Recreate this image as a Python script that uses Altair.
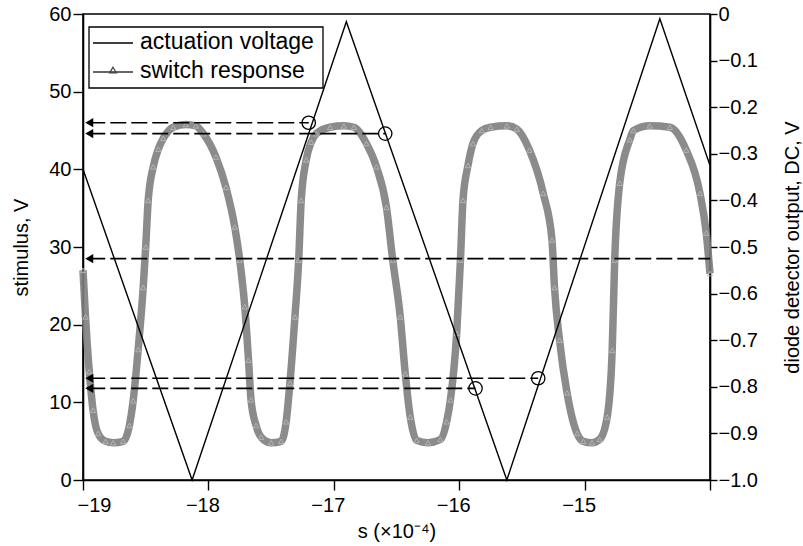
import altair as alt
import pandas as pd

# ---------------- data ----------------
act_x = [-19.0, -18.13, -16.90, -15.62, -14.40, -14.0]
act_v = [40.0, 0.0, 59.0, 0.0, 59.4, 40.5]

sw_x = [-19.00, -18.98, -18.95, -18.92, -18.88, -18.82, -18.76, -18.68, -18.63, -18.60,
        -18.56, -18.52, -18.50, -18.48, -18.44, -18.40, -18.36, -18.28, -18.18, -18.10,
        -18.04, -17.94, -17.86, -17.79, -17.75, -17.71, -17.68, -17.66, -17.62, -17.58,
        -17.50, -17.42, -17.38, -17.35, -17.31, -17.28, -17.26, -17.22, -17.18, -17.14,
        -17.03, -16.92, -16.84, -16.74, -16.66, -16.58, -16.53, -16.47, -16.43, -16.39,
        -16.34, -16.25, -16.15, -16.10, -16.07, -16.02, -15.99, -15.97, -15.93, -15.89,
        -15.82, -15.75, -15.62, -15.54, -15.44, -15.33, -15.26, -15.24, -15.20, -15.14,
        -15.06, -15.01, -14.94, -14.88, -14.82, -14.78, -14.76, -14.72, -14.64, -14.61,
        -14.48, -14.32, -14.19, -14.08, -14.03, -14.00]
sw_v = [-0.55, -0.65, -0.767, -0.85, -0.90, -0.917, -0.92, -0.917, -0.883, -0.83,
        -0.72, -0.587, -0.50, -0.40, -0.328, -0.29, -0.267, -0.243, -0.237, -0.24,
        -0.257, -0.307, -0.372, -0.457, -0.528, -0.628, -0.743, -0.828, -0.883, -0.908,
        -0.92, -0.917, -0.875, -0.792, -0.65, -0.528, -0.40, -0.313, -0.275, -0.257,
        -0.243, -0.24, -0.243, -0.278, -0.328, -0.415, -0.528, -0.65, -0.772, -0.865,
        -0.915, -0.92, -0.913, -0.875, -0.828, -0.685, -0.528, -0.40, -0.325, -0.278,
        -0.25, -0.243, -0.24, -0.247, -0.292, -0.385, -0.485, -0.587, -0.70, -0.813,
        -0.90, -0.917, -0.92, -0.913, -0.865, -0.722, -0.528, -0.363, -0.27, -0.25,
        -0.24, -0.243, -0.292, -0.385, -0.47, -0.557]

ref_y = [46.0, 44.6, 28.5, 13.1, 11.8]
ref_x_start = [-18.95, -18.95, -18.95, -18.95, -18.95]
ref_x_end = [-17.20, -16.59, -14.0, -15.37, -15.87]

circ_x = [-17.20, -16.59, -15.37, -15.87]
circ_y = [46.0, 44.6, 13.1, 11.8]

x_ticks = [-19, -18, -17, -16, -15, -14]
left_ticks = [0, 10, 20, 30, 40, 50, 60]
right_ticks = [0, -0.1, -0.2, -0.3, -0.4, -0.5, -0.6, -0.7, -0.8, -0.9, -1.0]

legend_labels = ["actuation voltage", "switch response"]

# ---------------- tables ----------------
act_df = pd.DataFrame({"s": act_x, "v": act_v})
sw_df = pd.DataFrame({"s": sw_x, "d": sw_v})
ref_df = pd.DataFrame({"xs": ref_x_start, "xe": ref_x_end, "y": ref_y})
circ_df = pd.DataFrame({"s": circ_x, "v": circ_y})
one = pd.DataFrame({"k": [0]})

FONT = "Liberation Sans"

xscale = alt.Scale(domain=[-19, -14], nice=False, zero=False)
yl_scale = alt.Scale(domain=[0, 60], nice=False, zero=False)
yr_scale = alt.Scale(domain=[-1, 0], nice=False, zero=False)

x_axis = alt.Axis(values=x_ticks, title="s (×10⁻⁴)",
                  labelExpr="datum.value == -14 ? '' : datum.label",
                  tickSize=10, labelPadding=5, labelOffset=-6,
                  titleX=313.5, titleY=51, titleAlign="center", titleBaseline="middle")
yl_axis = alt.Axis(values=left_ticks, title="stimulus, V", orient="left",
                   tickSize=10, labelPadding=2,
                   titleX=-62, titleY=233, titleAngle=270,
                   titleAlign="center", titleBaseline="middle")
yr_axis = alt.Axis(values=right_ticks, title="diode detector output, DC, V", orient="right",
                   labelExpr="datum.value == 0 ? '\u2002\u20020' : format(datum.value, '.1f')",
                   tickSize=7, labelPadding=1,
                   titleX=82, titleY=233, titleAngle=270,
                   titleAlign="center", titleBaseline="middle")

X = lambda f: alt.X(f, scale=xscale, axis=x_axis)
YL = lambda f: alt.Y(f, scale=yl_scale, axis=yl_axis)
YR = lambda f: alt.Y(f, scale=yr_scale, axis=yr_axis)

act_line = alt.Chart(act_df).mark_line(color="black", strokeWidth=1.4).encode(
    x=X("s:Q"), y=YL("v:Q"))

ref_rules = alt.Chart(ref_df).mark_rule(color="black", strokeWidth=1.7, strokeDash=[16, 5]).encode(
    x=X("xs:Q"), x2="xe:Q", y=YL("y:Q"))

arrows = alt.Chart(ref_df).mark_point(shape="triangle-left", filled=True, color="black",
                                      size=85, opacity=1).encode(
    x=X("xs:Q"), y=YL("y:Q"))

circles = alt.Chart(circ_df).mark_point(shape="circle", filled=False, color="black",
                                        size=180, strokeWidth=1.3, opacity=1).encode(
    x=X("s:Q"), y=YL("v:Q"))

# legend (drawn by hand)
leg_box = alt.Chart(one).mark_rect(fill="white", stroke="black", strokeWidth=1.3).encode(
    x=alt.value(6), x2=alt.value(240), y=alt.value(13), y2=alt.value(74))
leg_line1 = alt.Chart(one).mark_rule(color="black", strokeWidth=1.4).encode(
    x=alt.value(10), x2=alt.value(50), y=alt.value(29))
leg_line2 = alt.Chart(one).mark_rule(color="#333333", strokeWidth=1.4).encode(
    x=alt.value(10), x2=alt.value(50), y=alt.value(58))
leg_tri = alt.Chart(one).mark_point(shape="triangle-up", filled=False, color="#444444",
                                    size=45, strokeWidth=1.2, opacity=1).encode(
    x=alt.value(30), y=alt.value(56))
leg_t1 = alt.Chart(one).mark_text(text=legend_labels[0], font=FONT, fontSize=23, align="left",
                                  baseline="alphabetic", color="black").encode(
    x=alt.value(57), y=alt.value(35))
leg_t2 = alt.Chart(one).mark_text(text=legend_labels[1], font=FONT, fontSize=23, align="left",
                                  baseline="alphabetic", color="black").encode(
    x=alt.value(57), y=alt.value(64))

left_group = alt.layer(act_line, ref_rules, arrows, circles,
                       leg_box, leg_line1, leg_line2, leg_tri, leg_t1, leg_t2)

sw_band = alt.Chart(sw_df).mark_line(color="#7e7e7e", strokeWidth=7.5, interpolate="monotone",
                                     opacity=0.9).encode(
    x=X("s:Q"), y=YR("d:Q"))
sw_pts = alt.Chart(sw_df).mark_point(shape="triangle-up", filled=False, color="#bdbdbd",
                                     size=28, strokeWidth=0.9, opacity=0.9).encode(
    x=X("s:Q"), y=YR("d:Q"))
right_group = alt.layer(sw_band, sw_pts)

chart = alt.layer(right_group, left_group).resolve_scale(y="independent").properties(
    width=627, height=466,
    background="white",
    autosize=alt.AutoSizeParams(type="none"),
    padding={"left": 83, "top": 14, "right": 93, "bottom": 66},
).configure_axis(
    labelFont=FONT, titleFont=FONT, labelFontSize=20, titleFontSize=20,
    labelColor="black", titleColor="black", titleFontWeight="normal",
    domainColor="black", tickColor="black", domainWidth=1.6, tickWidth=1.4, grid=False,
).configure_view(stroke="black", strokeWidth=1.6)

chart.save("out.html", embed_options={"renderer": "svg", "actions": False})
